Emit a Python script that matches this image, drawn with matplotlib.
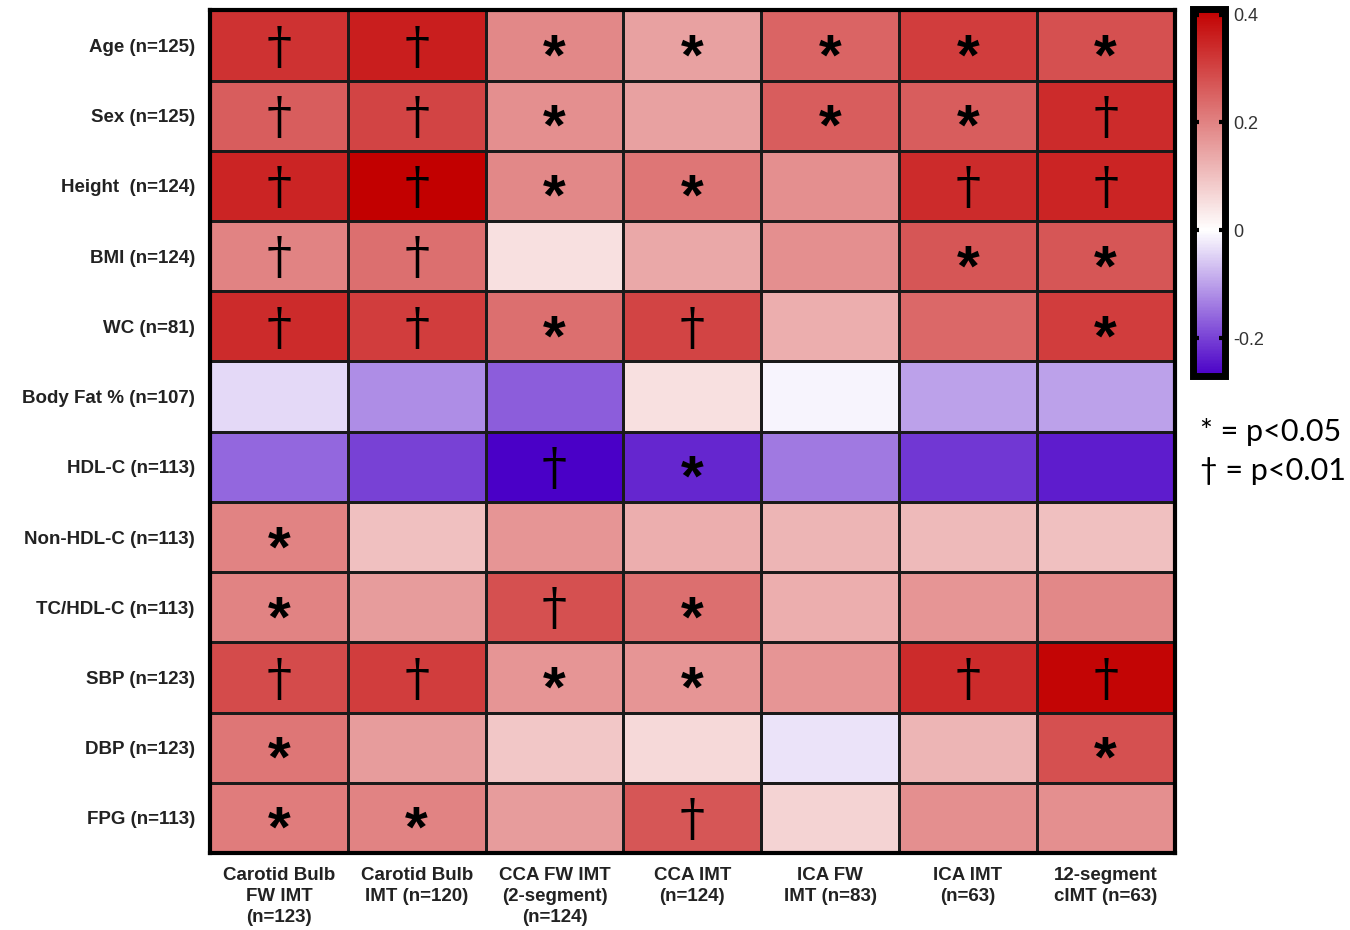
import matplotlib
matplotlib.use("Agg")
import matplotlib.pyplot as plt
import numpy as np
from matplotlib.colors import LinearSegmentedColormap, Normalize

plt.rcParams['font.family'] = ['Liberation Sans', 'DejaVu Sans']

row_labels = ["Age (n=125)", "Sex (n=125)", "Height  (n=124)", "BMI (n=124)",
              "WC (n=81)", "Body Fat % (n=107)", "HDL-C (n=113)",
              "Non-HDL-C (n=113)", "TC/HDL-C (n=113)", "SBP (n=123)",
              "DBP (n=123)", "FPG (n=113)"]
col_labels = ["Carotid Bulb\nFW IMT\n(n=123)", "Carotid Bulb\nIMT (n=120)",
              "CCA FW IMT\n(2-segment)\n(n=124)", "CCA IMT\n(n=124)",
              "ICA FW\nIMT (n=83)", "ICA IMT\n(n=63)", "12-segment\ncIMT (n=63)"]

# correlation coefficients, rows x columns
corr = np.array([
    [0.33, 0.36, 0.19, 0.15, 0.25, 0.31, 0.28],
    [0.26, 0.30, 0.18, 0.15, 0.26, 0.26, 0.34],
    [0.35, 0.41, 0.19, 0.22, 0.18, 0.34, 0.35],
    [0.20, 0.23, 0.05, 0.14, 0.18, 0.27, 0.27],
    [0.34, 0.31, 0.23, 0.30, 0.13, 0.24, 0.31],
    [-0.04, -0.12, -0.17, 0.05, -0.01, -0.10, -0.10],
    [-0.16, -0.20, -0.27, -0.23, -0.14, -0.21, -0.24],
    [0.20, 0.10, 0.17, 0.13, 0.12, 0.11, 0.10],
    [0.20, 0.16, 0.28, 0.23, 0.13, 0.17, 0.19],
    [0.29, 0.31, 0.17, 0.17, 0.17, 0.34, 0.40],
    [0.22, 0.16, 0.09, 0.06, -0.03, 0.12, 0.28],
    [0.21, 0.20, 0.16, 0.27, 0.07, 0.18, 0.18],
])

# significance: "s" p<0.05, "d" p<0.01
signif = [
    ["d", "d", "s", "s", "s", "s", "s"],
    ["d", "d", "s", "", "s", "s", "d"],
    ["d", "d", "s", "s", "", "d", "d"],
    ["d", "d", "", "", "", "s", "s"],
    ["d", "d", "s", "d", "", "", "s"],
    ["", "", "", "", "", "", ""],
    ["", "", "d", "s", "", "", ""],
    ["s", "", "", "", "", "", ""],
    ["s", "", "d", "s", "", "", ""],
    ["d", "d", "s", "s", "", "d", "d"],
    ["s", "", "", "", "", "", "s"],
    ["s", "s", "", "d", "", "", ""],
]

vmin, vmax = -0.27, 0.41
mid = (0 - vmin) / (vmax - vmin)
cmap = LinearSegmentedColormap.from_list(
    "bwr_custom", [(0.0, (0.29, 0.0, 0.78)), (mid, (1, 1, 1)), (1.0, (0.76, 0.0, 0.0))])
norm = Normalize(vmin=vmin, vmax=vmax)

fig = plt.figure(figsize=(13.5, 9.3), dpi=100)
ax = fig.add_axes([0.1556, 0.0828, 0.7144, 0.906])
nr, nc = corr.shape
mesh = ax.pcolormesh(np.arange(nc + 1), np.arange(nr + 1), corr, cmap=cmap, norm=norm,
                     edgecolors="#1a1a1a", linewidth=0.8)
ax.set_xlim(0, nc)
ax.set_ylim(nr, 0)
for sp in ax.spines.values():
    sp.set_linewidth(3)
    sp.set_color("black")

ax.set_xticks(np.arange(nc) + 0.5)
ax.set_xticklabels(col_labels, fontsize=13.5, fontweight="bold", color="#222222",
                   linespacing=1.3, va="top")
ax.set_yticks(np.arange(nr) + 0.5)
ax.set_yticklabels(row_labels, fontsize=13.5, fontweight="bold", color="#222222")
ax.tick_params(axis="x", length=0, pad=10)
ax.tick_params(axis="y", length=0, pad=11)

for i in range(nr):
    for j in range(nc):
        mark = signif[i][j]
        if mark == "s":
            ax.text(j + 0.5, i + 0.7, "*", ha="center", va="center",
                    fontsize=42, fontweight="bold", color="black",
                    fontfamily="Liberation Sans")
        elif mark == "d":
            ax.text(j + 0.5, i + 0.55, "\u2020", ha="center", va="center",
                    fontsize=36, color="black", fontfamily="DejaVu Serif")

cax = fig.add_axes([0.8835, 0.596, 0.024, 0.394])
cb = fig.colorbar(mesh, cax=cax, ticks=[-0.2, 0, 0.2, 0.4])
cb.ax.set_yticklabels(["-0.2", "0", "0.2", "0.4"])
cb.outline.set_linewidth(5)
cb.ax.tick_params(direction="in", length=4, width=3, color="black",
                  labelsize=13, labelcolor="#333333", pad=6, left=True)

fig.text(0.889, 0.535, "* = p<0.05", fontsize=22, fontfamily="Lato", va="center")
fig.text(0.889, 0.494, "\u2020 = p<0.01", fontsize=22, fontfamily="Lato", va="center")

fig.savefig("out.png", dpi=100)
